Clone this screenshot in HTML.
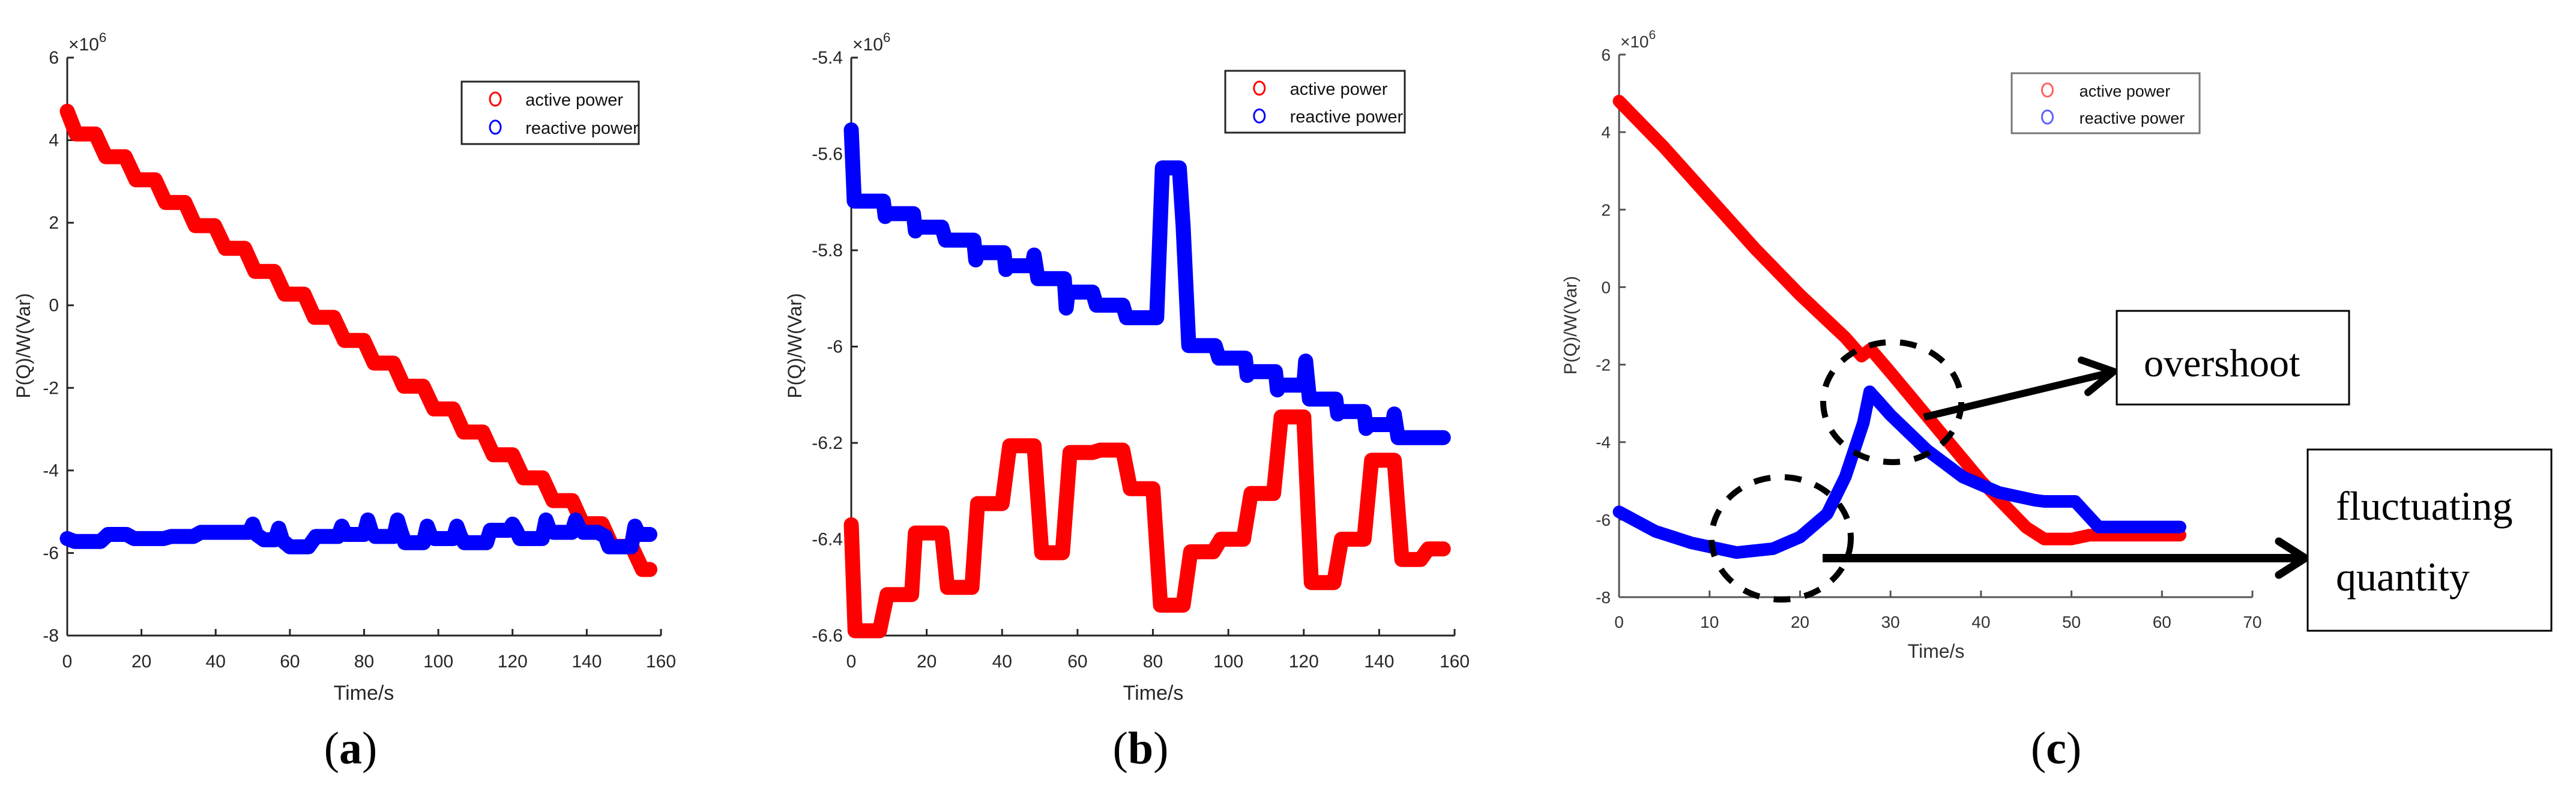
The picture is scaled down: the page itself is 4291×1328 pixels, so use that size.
<!DOCTYPE html>
<html><head><meta charset="utf-8"><style>
html,body{margin:0;padding:0;background:#fff;}
svg{display:block;}
text{font-family:"Liberation Sans",sans-serif;}
text.serif{font-family:"Liberation Serif",serif;}
</style></head><body>
<svg id="fig" width="4291" height="1328" viewBox="0 0 4291 1328" xmlns="http://www.w3.org/2000/svg">
<rect width="4291" height="1328" fill="#fff"/>
<g id="pa"></g>
<g id="pb"></g>
<g id="pc"></g>
<text class="serif" x="584" y="1272" font-size="76" text-anchor="middle">(<tspan font-weight="bold">a</tspan>)</text>
<text class="serif" x="1900" y="1272" font-size="76" text-anchor="middle">(<tspan font-weight="bold">b</tspan>)</text>
<text class="serif" x="3425" y="1272" font-size="76" text-anchor="middle">(<tspan font-weight="bold">c</tspan>)</text>
</svg>
<script>
// Panel (a) data
const aActT=[0,2.4,7.6,10.4,15.6,18.5,23.7,26.5,31.7,34.5,39.7,42.6,47.8,50.6,55.8,58.6,63.8,66.6,71.8,74.7,79.9,82.7,87.9,90.7,95.9,98.8,104,106.8,112,114.8,120,122.9,128.1,130.9,136.1,138.9,144.1,146.9,152.1,155,157];
const aActV=[4.7,4.15,4.15,3.6,3.6,3.04,3.04,2.49,2.49,1.93,1.93,1.38,1.38,0.82,0.82,0.27,0.27,-0.29,-0.29,-0.85,-0.85,-1.4,-1.4,-1.96,-1.96,-2.51,-2.51,-3.07,-3.07,-3.62,-3.62,-4.18,-4.18,-4.73,-4.73,-5.29,-5.29,-5.84,-5.84,-6.4,-6.4];
const aReaT=[0,2,9,11,16,18,26,28,34,36,49,50,51,53,56,57,58,60,65,67,73,74,75,80,81,82,83,88,89,90,91,96,97,98,99,104,105,106,107,113,114,119,120,121,122,128,129,130,131,136,137,138,139,143,145,146,152,153,154,157];
const aReaV=[-5.65,-5.72,-5.72,-5.55,-5.55,-5.65,-5.65,-5.6,-5.6,-5.5,-5.5,-5.3,-5.55,-5.68,-5.68,-5.4,-5.7,-5.85,-5.85,-5.6,-5.6,-5.35,-5.55,-5.55,-5.2,-5.5,-5.6,-5.6,-5.2,-5.5,-5.75,-5.75,-5.35,-5.6,-5.65,-5.65,-5.35,-5.6,-5.75,-5.75,-5.45,-5.45,-5.3,-5.45,-5.65,-5.65,-5.2,-5.45,-5.5,-5.5,-5.2,-5.4,-5.5,-5.5,-5.6,-5.85,-5.85,-5.35,-5.55,-5.55];
const aYTicks=[6,4,2,0,-2,-4,-6,-8];
const aXTicks=[0,20,40,60,80,100,120,140,160];
// Panel (b) data
const bActT=[0,1,7.5,9.5,16,17,24,25.5,32,33.5,40,42,48.5,50.5,56,58,64,66,72,74,80,82,88,90,96,98,104,106,112,114,120,122,128,130,136,138,144,146,151,153,157];
const bActV=[-6.37,-6.59,-6.59,-6.515,-6.515,-6.387,-6.387,-6.5,-6.5,-6.326,-6.326,-6.206,-6.206,-6.428,-6.428,-6.22,-6.22,-6.215,-6.215,-6.295,-6.295,-6.537,-6.537,-6.426,-6.426,-6.4,-6.4,-6.305,-6.305,-6.146,-6.146,-6.49,-6.49,-6.4,-6.4,-6.236,-6.236,-6.442,-6.442,-6.42,-6.42];
const bReaT=[0,0.8,8.5,9,9.5,16.5,17,17.5,24,25,32.5,33,33.5,40.5,41,41.5,48,48.5,49.5,56.5,57,57.5,64,65,72,73,80,81,82.5,87,88,89.5,96.5,97.5,104.5,105,105.5,112.5,113,113.5,120,120.5,121.5,128.5,129,129.5,136,136.5,137.5,143.5,144,145,157];
const bReaV=[-5.55,-5.698,-5.698,-5.73,-5.724,-5.724,-5.76,-5.752,-5.752,-5.779,-5.779,-5.82,-5.805,-5.805,-5.84,-5.832,-5.832,-5.81,-5.859,-5.859,-5.92,-5.887,-5.887,-5.914,-5.914,-5.94,-5.94,-5.94,-5.629,-5.629,-5.75,-5.998,-5.998,-6.024,-6.024,-6.06,-6.052,-6.052,-6.09,-6.08,-6.08,-6.03,-6.109,-6.109,-6.14,-6.135,-6.135,-6.17,-6.162,-6.162,-6.14,-6.189,-6.189];
const bYTicks=[-5.4,-5.6,-5.8,-6,-6.2,-6.4,-6.6];
const bXTicks=[0,20,40,60,80,100,120,140,160];
// Panel (c) data
const cActT=[0,5,10,15,20,25,26.8,27.8,30,35,40,45,47,50,52,62];
const cActV=[4.8,3.6,2.3,1.0,-0.2,-1.3,-1.78,-1.6,-2.2,-3.6,-5.0,-6.2,-6.5,-6.5,-6.4,-6.4];
const cReaT=[0,4,8,13,17,20,23,25,27,27.7,30,34,38,42,46,47,50.4,53,62];
const cReaV=[-5.8,-6.3,-6.6,-6.85,-6.75,-6.45,-5.85,-4.9,-3.5,-2.7,-3.3,-4.2,-4.9,-5.3,-5.5,-5.53,-5.53,-6.19,-6.19];
const cYTicks=[6,4,2,0,-2,-4,-6,-8];
const cXTicks=[0,10,20,30,40,50,60,70];

const NS='http://www.w3.org/2000/svg';
function mk(parent,tag,attrs,txt){const e=document.createElementNS(NS,tag);for(const k in attrs)e.setAttribute(k,attrs[k]);if(txt!==undefined)e.textContent=txt;parent.appendChild(e);return e;}
function fmt(v){return (Math.round(v*10)/10).toString();}

function panel(g,cfg){
  const sx=t=>cfg.x0+(t-cfg.xmin)/(cfg.xmax-cfg.xmin)*(cfg.x1-cfg.x0);
  const sy=v=>cfg.yTop+(cfg.ymax-v)/(cfg.ymax-cfg.ymin)*(cfg.yBot-cfg.yTop);
  const ax=mk(g,'g',{});
  
  
  const yl=mk(ax,'line',{x1:cfg.x0,y1:cfg.yTop,x2:cfg.x0,y2:cfg.yBot,stroke:cfg.axCol,'stroke-width':3});
  
  
  const xl=mk(ax,'line',{x1:cfg.x0,y1:cfg.yBot,x2:cfg.x1,y2:cfg.yBot,stroke:cfg.axCol,'stroke-width':3});
  
  
  cfg.yTicks.forEach(v=>{
    const y=sy(v);
    mk(ax,'line',{x1:cfg.x0,y1:y,x2:cfg.x0+11,y2:y,stroke:cfg.axCol,'stroke-width':3});
    const t=mk(ax,'text',{x:cfg.x0-14,y:y+10,'font-size':cfg.fs,'text-anchor':'end',fill:cfg.txtCol},fmt(v));
    
    
  });
  cfg.xTicks.forEach(v=>{
    const x=sx(v);
    mk(ax,'line',{x1:x,y1:cfg.yBot,x2:x,y2:cfg.yBot-11,stroke:cfg.axCol,'stroke-width':3});
    const t=mk(ax,'text',{x:x,y:cfg.xLabY,'font-size':cfg.fs,'text-anchor':'middle',fill:cfg.txtCol},fmt(v));
    
    
  });
  const ex=mk(ax,'text',{x:cfg.x0+2,y:cfg.yTop-12,'font-size':cfg.fs,fill:cfg.txtCol},'×10');
  
  
  mk(ex,'tspan',{dy:-14,'font-size':cfg.fs*0.75},'6');
  const xt=mk(ax,'text',{x:cfg.xTitleX,y:cfg.xTitleY,'font-size':cfg.fs+4,'text-anchor':'middle',fill:cfg.txtCol},'Time/s');
  
  
  const yt=mk(ax,'text',{x:0,y:0,'font-size':cfg.fs+2,'text-anchor':'middle',fill:cfg.txtCol,transform:`translate(${cfg.yTitleX},${cfg.yTitleY}) rotate(-90)`},'P(Q)/W(Var)');
  
  
  [[cfg.actT,cfg.actV,'#ff0000','active-power-series'],[cfg.reaT,cfg.reaV,'#0000ff','reactive-power-series']].forEach(([T,V,c,n])=>{
    const pts=T.map((t,i)=>sx(t).toFixed(1)+','+sy(V[i]).toFixed(1)).join(' ');
    const p=mk(g,'polyline',{points:pts,fill:'none',stroke:c,'stroke-width':cfg.lw,'stroke-linejoin':'round','stroke-linecap':'round'});
    
    
  });
  const L=cfg.leg;
  const lg=mk(g,'g',{});
  
  
  mk(lg,'rect',{x:L.x,y:L.y,width:L.w,height:L.h,fill:'#fff',stroke:cfg.legStroke,'stroke-width':3});
  [['active power',cfg.legR],['reactive power',cfg.legB]].forEach(([s,c],i)=>{
    const cy=L.y+L.h*(0.28+0.45*i);
    const e=mk(lg,'ellipse',{cx:L.x+L.w*0.19,cy:cy,rx:9,ry:11,fill:'none',stroke:c,'stroke-width':3});
    
    
    const t=mk(lg,'text',{x:L.x+L.w*0.36,y:cy+11,'font-size':cfg.legFs,fill:'#111'},s);
    
    
  });
}

panel(document.getElementById('pa'),{x0:112,x1:1101,xmin:0,xmax:160,yTop:96,yBot:1059,ymin:-8,ymax:6,
  yTicks:aYTicks,xTicks:aXTicks,actT:aActT,actV:aActV,reaT:aReaT,reaV:aReaV,axCol:'#262626',txtCol:'#262626',fs:30,
  xLabY:1112,xTitleX:606,xTitleY:1166,yTitleX:50,yTitleY:576,lw:25,
  leg:{x:769,y:136,w:295,h:104},legStroke:'#262626',legR:'#ff0000',legB:'#0000ff',legFs:29});
panel(document.getElementById('pb'),{x0:1418,x1:2423,xmin:0,xmax:160,yTop:96,yBot:1059,ymin:-6.6,ymax:-5.4,
  yTicks:bYTicks,xTicks:bXTicks,actT:bActT,actV:bActV,reaT:bReaT,reaV:bReaV,axCol:'#262626',txtCol:'#262626',fs:30,
  xLabY:1112,xTitleX:1921,xTitleY:1166,yTitleX:1335,yTitleY:576,lw:25,
  leg:{x:2041,y:118,w:299,h:103},legStroke:'#262626',legR:'#ff0000',legB:'#0000ff',legFs:29});
panel(document.getElementById('pc'),{x0:2697,x1:3752,xmin:0,xmax:70,yTop:91,yBot:995,ymin:-8,ymax:6,
  yTicks:cYTicks,xTicks:cXTicks,actT:cActT,actV:cActV,reaT:cReaT,reaV:cReaV,axCol:'#555',txtCol:'#333',fs:28,
  xLabY:1046,xTitleX:3225,xTitleY:1096,yTitleX:2626,yTitleY:542,lw:21,
  leg:{x:3351,y:122,w:313,h:100},legStroke:'#777',legR:'#ff6060',legB:'#6060ff',legFs:27});

const pc=document.getElementById('pc');
const an=mk(pc,'g',{});


const e1=mk(an,'ellipse',{cx:3152,cy:670,rx:115,ry:100,fill:'none',stroke:'#000','stroke-width':10,'stroke-dasharray':'28 24'});


const e2=mk(an,'ellipse',{cx:2967,cy:897,rx:116,ry:102,fill:'none',stroke:'#000','stroke-width':10,'stroke-dasharray':'28 24'});


const a1=mk(an,'g',{});


mk(a1,'line',{x1:3205,y1:695,x2:3519,y2:620,stroke:'#000','stroke-width':12});
mk(a1,'polyline',{points:'3467,600 3521,619 3478,654',fill:'none',stroke:'#000','stroke-width':12,'stroke-linecap':'round'});
const a2=mk(an,'g',{});


mk(a2,'line',{x1:3036,y1:930,x2:3838,y2:930,stroke:'#000','stroke-width':14});
mk(a2,'polyline',{points:'3796,902 3840,930 3796,958',fill:'none',stroke:'#000','stroke-width':13,'stroke-linecap':'round'});
const b1=mk(an,'g',{});


mk(b1,'rect',{x:3526,y:518,width:387,height:156,fill:'#fff',stroke:'#000','stroke-width':3});
mk(b1,'text',{x:3571,y:627,'font-size':66,'class':'serif'},'overshoot');
const b2=mk(an,'g',{});


mk(b2,'rect',{x:3844,y:749,width:406,height:302,fill:'#fff',stroke:'#000','stroke-width':3});
mk(b2,'text',{x:3891,y:866,'font-size':68,'class':'serif'},'fluctuating');
mk(b2,'text',{x:3891,y:984,'font-size':68,'class':'serif'},'quantity');
</script>
</body></html>
